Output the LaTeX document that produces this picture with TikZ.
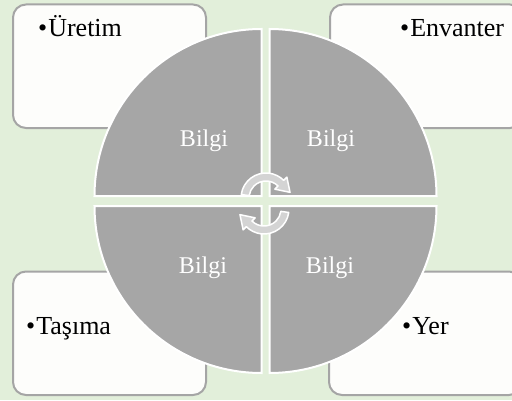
\documentclass[tikz,border=0pt]{standalone}
\usepackage{fontspec}
\setmainfont{Liberation Serif}
\usetikzlibrary{calc}
\definecolor{bggreen}{HTML}{E2EFDA}
\definecolor{boxline}{HTML}{A5A5A5}
\definecolor{boxfill}{HTML}{FDFDFB}
\definecolor{quadfill}{HTML}{A6A6A6}
\definecolor{arrowfill}{HTML}{D4D4D4}
\begin{document}
\begin{tikzpicture}[x=1pt,y=1pt,
  cornerbox/.style={draw=boxline, line width=2pt, fill=boxfill, rounded corners=13pt, minimum width=193pt, minimum height=123.5pt, inner sep=0pt, anchor=south west},
  quad/.style={fill=quadfill, draw=white, line width=2pt, line join=miter},
  infolabel/.style={text=white, font=\fontsize{24}{28}\selectfont, anchor=base, inner sep=0pt},
  itemlabel/.style={text=black, font=\fontsize{26}{30}\selectfont, anchor=base west, inner sep=0pt},
  cyclearrow/.style={fill=arrowfill, draw=white, line width=1.5pt, line join=round}]
\useasboundingbox (0,0) rectangle (512,400);
\clip (0,0) rectangle (512,400);
\fill[bggreen] (0,0) rectangle (512,400);
% boxes
\node[cornerbox] (uretimbox) at (12,271) {};
\node[cornerbox] (envanterbox) at (329,271) {};
\node[cornerbox] (tasimabox) at (12,4) {};
\node[cornerbox] (yerbox) at (328,4) {};
% quadrants
\path[quad] (261.5,204) -- ++(-167,0) arc[start angle=180,end angle=90,radius=167] -- cycle;
\path[quad] (269.5,204) -- ++(0,167) arc[start angle=90,end angle=0,radius=167] -- cycle;
\path[quad] (261.5,194) -- ++(0,-167) arc[start angle=270,end angle=180,radius=167] -- cycle;
\path[quad] (269.5,194) -- ++(167,0) arc[start angle=0,end angle=-90,radius=167] -- cycle;
% quadrant labels
\node[infolabel] (bilgiA) at (204,254) {Bilgi};
\node[infolabel] (bilgiB) at (331,254) {Bilgi};
\node[infolabel] (bilgiC) at (203,127) {Bilgi};
\node[infolabel] (bilgiD) at (330,127) {Bilgi};
% item labels
\node[itemlabel] (uretim) at (38,363) {•\hspace{1pt}Üretim};
\node[itemlabel] (envanter) at (400,363) {•\hspace{1pt}Envanter};
\node[itemlabel] (tasima) at (26,66) {•\hspace{1pt}Taşıma};
\node[itemlabel] (yer) at (402,66) {•\hspace{1pt}Yer};
% cycle arrows
\coordinate (ctop) at (266,202);
\coordinate (cbot) at (264,191);
\path[cyclearrow] ($(ctop)+(172:25)$) arc[start angle=172,end angle=45,radius=25]
  -- ($(ctop)+(45:29.5)$) -- ($(ctop)+(45:21)+(-45:13)$) -- ($(ctop)+(45:12.5)$)
  -- ($(ctop)+(45:17)$) arc[start angle=45,end angle=172,radius=17] -- cycle;
\path[cyclearrow] ($(cbot)+(-8:25)$) arc[start angle=-8,end angle=-135,radius=25]
  -- ($(cbot)+(-135:29.5)$) -- ($(cbot)+(-135:21)+(135:13)$) -- ($(cbot)+(-135:12.5)$)
  -- ($(cbot)+(-135:17)$) arc[start angle=-135,end angle=-8,radius=17] -- cycle;
\end{tikzpicture}
\end{document}
